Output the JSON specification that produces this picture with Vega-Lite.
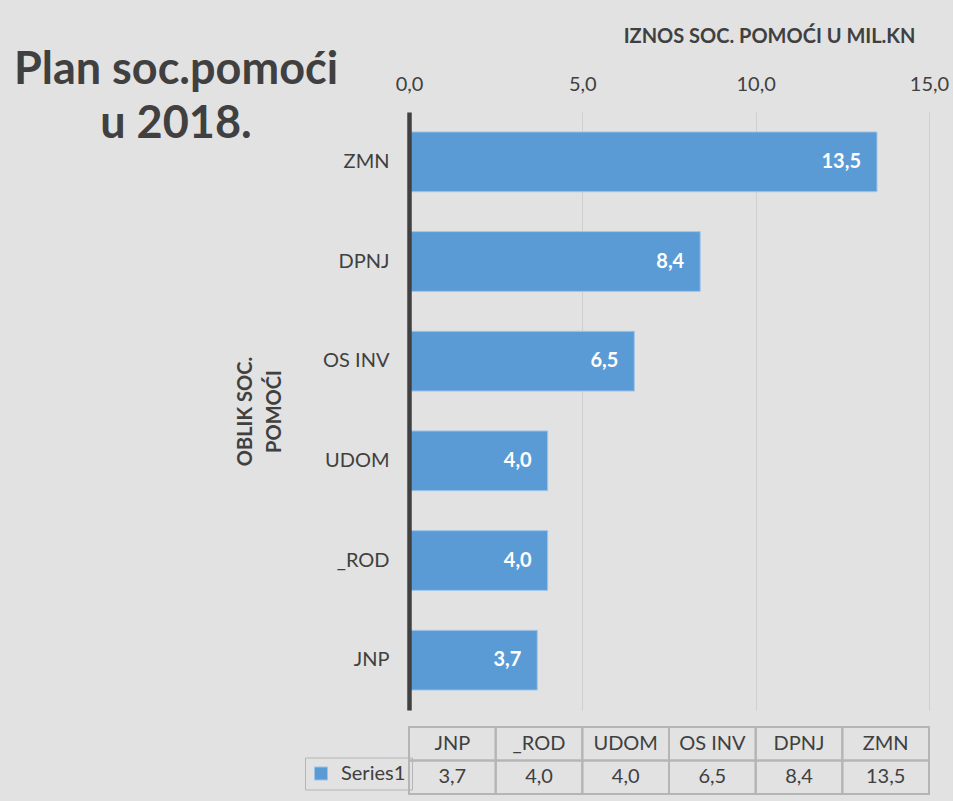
{
  "$schema": "https://vega.github.io/schema/vega-lite/v6.json",
  "background": "#e2e2e2",
  "padding": {"left": 13, "top": 26, "right": 4, "bottom": 9},
  "datasets": {
    "d": [
      {"cat": "ZMN", "val": 13.5, "series": "Series1"},
      {"cat": "DPNJ", "val": 8.4, "series": "Series1"},
      {"cat": "OS INV", "val": 6.5, "series": "Series1"},
      {"cat": "UDOM", "val": 4.0, "series": "Series1"},
      {"cat": "_ROD", "val": 4.0, "series": "Series1"},
      {"cat": "JNP", "val": 3.7, "series": "Series1"}
    ]
  },
  "title": {
    "text": ["Plan soc.pomoći", "u 2018."],
    "anchor": "start",
    "frame": "group",
    "align": "center",
    "baseline": "alphabetic",
    "dx": -233,
    "offset": -157,
    "font": "Lato",
    "fontSize": 45,
    "fontWeight": "bold",
    "color": "#404040",
    "lineHeight": 54
  },
  "bounds": "flush",
  "spacing": 17,
  "vconcat": [
    {
      "width": 520,
      "height": 598,
      "data": {"name": "d"},
      "encoding": {
        "y": {
          "field": "cat",
          "type": "nominal",
          "sort": ["ZMN", "DPNJ", "OS INV", "UDOM", "_ROD", "JNP"],
          "scale": {"paddingInner": 0.4, "paddingOuter": 0.2},
          "axis": {
            "title": ["OBLIK SOC.", "POMOĆI"],
            "titleFont": "Lato",
            "titleFontSize": 20,
            "titleFontWeight": "bold",
            "titleColor": "#404040",
            "titlePadding": 38,
            "titleLineHeight": 29,
            "labelFont": "Lato",
            "labelFontSize": 20,
            "labelColor": "#404040",
            "labelPadding": 20,
            "ticks": false,
            "domainColor": "#404040",
            "domainWidth": 4.5,
            "zindex": 1
          }
        },
        "x": {
          "field": "val",
          "type": "quantitative",
          "scale": {"domain": [0, 15], "nice": false},
          "axis": {
            "orient": "top",
            "values": [0, 5, 10, 15],
            "format": ".1f",
            "grid": true,
            "gridColor": "#cfcfcf",
            "domain": false,
            "ticks": false,
            "labelFlush": false,
            "labelPadding": 18,
            "labelFont": "Lato",
            "labelFontSize": 20,
            "labelColor": "#404040",
            "title": "IZNOS SOC. POMOĆI  U MIL.KN",
            "titleFont": "Lato",
            "titleFontSize": 20,
            "titleFontWeight": "bold",
            "titleColor": "#404040",
            "titleAnchor": "end",
            "titleAlign": "right",
            "titleBaseline": "alphabetic",
            "titleX": 506,
            "titleY": -70
          }
        }
      },
      "layer": [
        {
          "mark": {"type": "bar", "color": "#5b9bd5", "stroke": "#a3c6ea", "strokeWidth": 1}
        },
        {
          "mark": {
            "type": "text",
            "align": "right",
            "baseline": "middle",
            "dx": -16,
            "color": "#ffffff",
            "font": "Lato",
            "fontWeight": "bold",
            "fontSize": 20
          },
          "encoding": {
            "text": {"field": "val", "type": "quantitative", "format": ".1f"}
          }
        }
      ]
    },
    {
      "width": 520,
      "height": 67,
      "data": {"name": "d"},
      "encoding": {
        "x": {
          "field": "cat",
          "type": "nominal",
          "sort": ["JNP", "_ROD", "UDOM", "OS INV", "DPNJ", "ZMN"],
          "scale": {"paddingInner": 0, "paddingOuter": 0},
          "axis": null
        }
      },
      "layer": [
        {
          "mark": {"type": "rect", "fill": "transparent", "stroke": "#b5b5b5", "strokeWidth": 2},
          "encoding": {
            "y": {"datum": "h", "type": "nominal", "scale": {"domain": ["h", "v"], "paddingInner": 0, "paddingOuter": 0}, "axis": null}
          }
        },
        {
          "mark": {"type": "rect", "fill": "transparent", "stroke": "#b5b5b5", "strokeWidth": 2},
          "encoding": {
            "y": {"datum": "v", "type": "nominal"}
          }
        },
        {
          "mark": {"type": "text", "font": "Lato", "fontSize": 20, "color": "#404040", "baseline": "middle"},
          "encoding": {
            "y": {"datum": "h", "type": "nominal"},
            "text": {"field": "cat", "type": "nominal"}
          }
        },
        {
          "mark": {"type": "text", "font": "Lato", "fontSize": 20, "color": "#404040", "baseline": "middle"},
          "encoding": {
            "y": {"datum": "v", "type": "nominal"},
            "text": {"field": "val", "type": "quantitative", "format": ".1f"}
          }
        },
        {
          "mark": {"type": "point", "shape": "square", "filled": true, "size": 0, "opacity": 1},
          "encoding": {
            "y": {"datum": "v", "type": "nominal"},
            "color": {
              "field": "series",
              "type": "nominal",
              "scale": {"range": ["#5b9bd5"]},
              "legend": {
                "orient": "none",
                "legendX": -104,
                "legendY": 645.5,
                "title": null,
                "symbolType": "square",
                "symbolSize": 169,
                "symbolStrokeColor": "#9dc3e6",
                "symbolStrokeWidth": 1,
                "labelFont": "Lato",
                "labelFontSize": 20,
                "labelColor": "#404040",
                "labelOffset": 10,
                "padding": 6,
                "strokeColor": "#b5b5b5"
              }
            }
          }
        }
      ]
    }
  ],
  "config": {
    "font": "Lato",
    "view": {"stroke": null},
    "locale": {
      "number": {"decimal": ",", "thousands": ".", "grouping": [3], "currency": ["", " kn"]}
    }
  }
}
